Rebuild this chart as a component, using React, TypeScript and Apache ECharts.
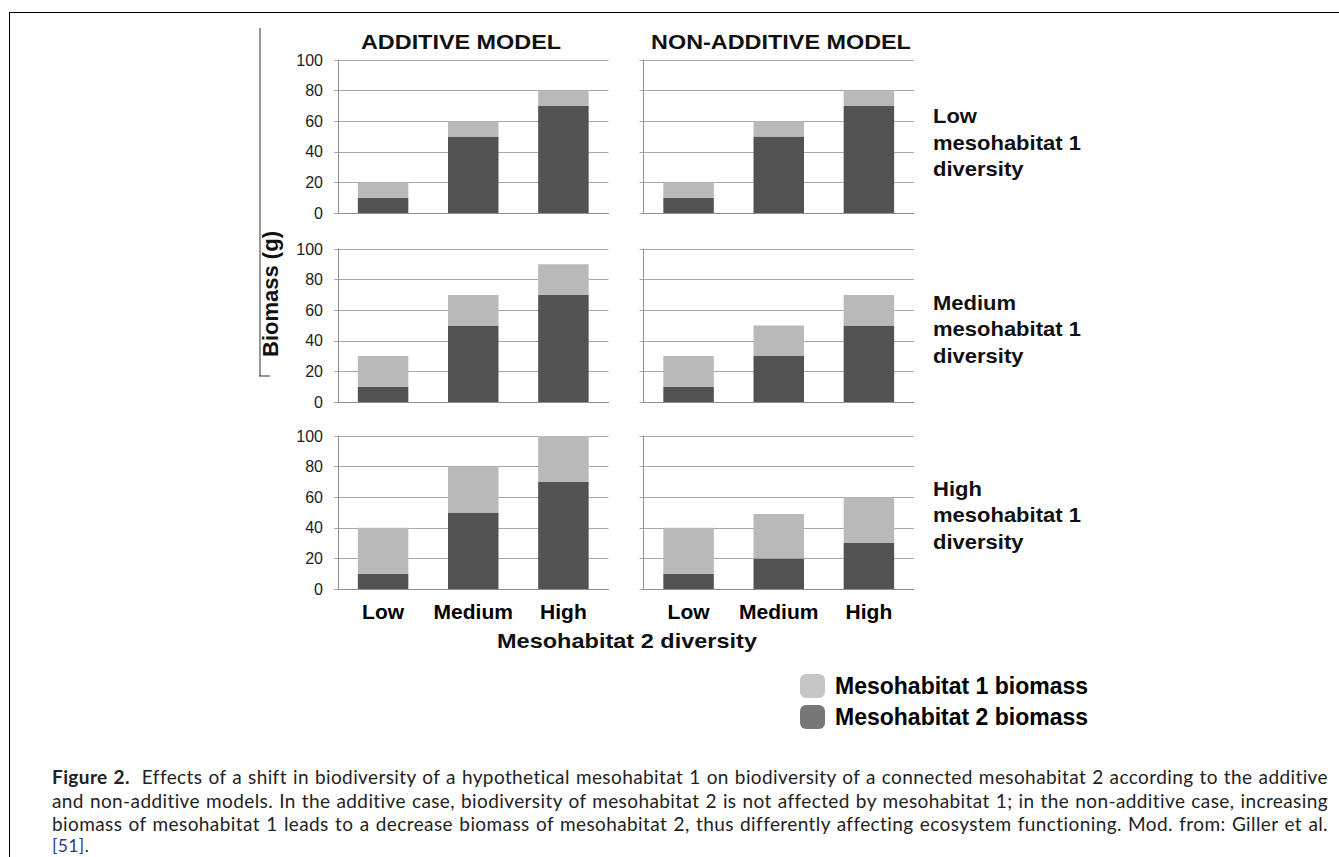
import React, { useEffect, useRef } from "react";
import * as echarts from "echarts";

// ---- Data ----
const categories = ["Low", "Medium", "High"];
const yTicks = [0, 20, 40, 60, 80, 100];

// Mesohabitat 2 biomass (dark, bottom) and Mesohabitat 1 biomass (light, stacked on top)
const additiveLowM2 = [10, 50, 70];
const additiveLowM1 = [10, 10, 10];
const nonAdditiveLowM2 = [10, 50, 70];
const nonAdditiveLowM1 = [10, 10, 10];

const additiveMediumM2 = [10, 50, 70];
const additiveMediumM1 = [20, 20, 20];
const nonAdditiveMediumM2 = [10, 30, 50];
const nonAdditiveMediumM1 = [20, 20, 20];

const additiveHighM2 = [10, 50, 70];
const additiveHighM1 = [30, 30, 30];
const nonAdditiveHighM2 = [10, 20, 30];
const nonAdditiveHighM1 = [30, 29, 30];

const modelTitles = ["ADDITIVE MODEL", "NON-ADDITIVE MODEL"];
const rowLabels = [
  "Low\nmesohabitat 1\ndiversity",
  "Medium\nmesohabitat 1\ndiversity",
  "High\nmesohabitat 1\ndiversity",
];
const seriesNames = ["Mesohabitat 1 biomass", "Mesohabitat 2 biomass"];
const yAxisTitle = "Biomass (g)";
const xAxisTitle = "Mesohabitat 2 diversity";

const FONT = '"Liberation Sans", Arial, Helvetica, sans-serif';
const DARK = "#525252";
const LIGHT = "#b9b9b9";
const GRID_LINE = "#a8a8a8";
const AXIS_LINE = "#8e8e8e";

export default function App() {
  const ref = useRef<HTMLDivElement>(null);

  useEffect(() => {
    if (!ref.current) return;
    const chart = echarts.init(ref.current, null, { renderer: "svg" });

    const panels = [
      { m2: additiveLowM2, m1: additiveLowM1 },
      { m2: nonAdditiveLowM2, m1: nonAdditiveLowM1 },
      { m2: additiveMediumM2, m1: additiveMediumM1 },
      { m2: nonAdditiveMediumM2, m1: nonAdditiveMediumM1 },
      { m2: additiveHighM2, m1: additiveHighM1 },
      { m2: nonAdditiveHighM2, m1: nonAdditiveHighM1 },
    ];
    const rowTops = [60, 249, 436];
    const colLefts = [338, 643.5];
    const gridW = 270.5;
    const gridH = 153;

    const grids: any[] = [];
    const xAxes: any[] = [];
    const yAxes: any[] = [];
    const series: any[] = [];

    panels.forEach((p, i) => {
      const row = Math.floor(i / 2);
      const col = i % 2;
      grids.push({
        left: colLefts[col],
        top: rowTops[row],
        width: gridW,
        height: gridH,
        containLabel: false,
      });
      xAxes.push({
        type: "category",
        gridIndex: i,
        data: categories,
        axisLine: { show: true, lineStyle: { color: AXIS_LINE, width: 1 } },
        axisTick: { show: false },
        axisLabel: {
          show: row === 2,
          interval: 0,
          hideOverlap: false,
          fontFamily: FONT,
          fontSize: 21,
          fontWeight: "bold",
          color: "#000",
          margin: 12,
        },
      });
      yAxes.push({
        type: "value",
        gridIndex: i,
        min: yTicks[0],
        max: yTicks[yTicks.length - 1],
        interval: yTicks[1] - yTicks[0],
        axisLine: { show: true, lineStyle: { color: AXIS_LINE, width: 1 } },
        axisTick: { show: true, length: 4, lineStyle: { color: GRID_LINE } },
        splitLine: { show: true, lineStyle: { color: GRID_LINE, width: 1 } },
        axisLabel: {
          show: col === 0,
          fontFamily: FONT,
          fontSize: 16,
          color: "#1e1e1e",
          margin: 15,
        },
      });
      series.push({
        name: seriesNames[1],
        type: "bar",
        xAxisIndex: i,
        yAxisIndex: i,
        stack: "panel" + i,
        data: p.m2,
        barCategoryGap: "44%",
        itemStyle: { color: DARK },
      });
      series.push({
        name: seriesNames[0],
        type: "bar",
        xAxisIndex: i,
        yAxisIndex: i,
        stack: "panel" + i,
        data: p.m1,
        barCategoryGap: "44%",
        itemStyle: { color: LIGHT },
      });
    });

    const centerText = (text: string, x: number, y: number, font: string, extra: any = {}) => ({
      type: "text",
      x,
      y,
      ...extra,
      style: {
        text,
        font,
        fill: "#111",
        align: "center",
        verticalAlign: "middle",
        textAlign: "center",
        textVerticalAlign: "middle",
      },
    });

    const graphic: any[] = [
      centerText(modelTitles[0], 461, 42, `bold 20px ${FONT}`, { scaleX: 1.17 }),
      centerText(modelTitles[1], 781, 42, `bold 20px ${FONT}`, { scaleX: 1.17 }),
      ...rowLabels.map((t, r) => ({
        type: "text",
        x: 933,
        y: [142.5, 329, 515][r],
        scaleX: 1.1,
        style: {
          text: t,
          font: `bold 20px ${FONT}`,
          lineHeight: 26.5,
          fill: "#111",
          align: "left",
          verticalAlign: "middle",
          textAlign: "left",
          textVerticalAlign: "middle",
        },
      })),
      centerText(yAxisTitle, 270, 294, `bold 22px ${FONT}`, { rotation: Math.PI / 2 }),
      {
        type: "line",
        shape: { x1: 260, y1: 28, x2: 260, y2: 376 },
        style: { stroke: "#333", lineWidth: 1 },
      },
      {
        type: "line",
        shape: { x1: 259, y1: 376, x2: 270, y2: 376 },
        style: { stroke: "#333", lineWidth: 1 },
      },
      centerText(xAxisTitle, 627, 641, `bold 21px ${FONT}`, { scaleX: 1.12 }),
    ];

    chart.setOption({
      animation: false,
      backgroundColor: "transparent",
      grid: grids,
      xAxis: xAxes,
      yAxis: yAxes,
      series,
      legend: {
        orient: "vertical",
        left: 795,
        top: 669,
        itemWidth: 25,
        itemHeight: 24,
        itemGap: 7,
        selectedMode: false,
        icon: "roundRect",
        data: [
          { name: seriesNames[0], itemStyle: { color: "#c6c6c6" } },
          { name: seriesNames[1], itemStyle: { color: "#777777" } },
        ],
        textStyle: {
          fontFamily: FONT,
          fontSize: 23,
          fontWeight: "bold",
          color: "#000",
          padding: [0, 0, 0, 5],
        },
      },
      graphic,
    });

    return () => chart.dispose();
  }, []);

  const lineStyle: React.CSSProperties = {
    textAlign: "justify",
    textAlignLast: "justify",
    whiteSpace: "nowrap",
    height: 23.5,
  };

  return (
    <div
      style={{
        position: "fixed",
        left: 0,
        top: 0,
        width: 1339,
        height: 857,
        overflow: "hidden",
        background: "#fff",
      }}
    >
      <div
        style={{
          position: "absolute",
          left: 9,
          top: 12,
          width: 1400,
          height: 900,
          borderTop: "1px solid #000",
          borderLeft: "1px solid #000",
          boxSizing: "border-box",
        }}
      />
      <div
        ref={ref}
        style={{ position: "absolute", left: 0, top: 0, width: 1339, height: 740 }}
      />
      <div
        style={{
          position: "absolute",
          left: 52,
          top: 765,
          width: 1276,
          fontFamily: "Lato, 'Open Sans', sans-serif",
          fontSize: 19,
          letterSpacing: 0.4,
          lineHeight: "23.5px",
          color: "#222",
        }}
      >
        <div style={lineStyle}>
          <b>Figure 2.</b>&nbsp; Effects of a shift in biodiversity of a hypothetical mesohabitat 1 on
          biodiversity of a connected mesohabitat 2 according to the additive
        </div>
        <div style={lineStyle}>
          and non-additive models. In the additive case, biodiversity of mesohabitat 2 is not affected
          by mesohabitat 1; in the non-additive case, increasing
        </div>
        <div style={lineStyle}>
          biomass of mesohabitat 1 leads to a decrease biomass of mesohabitat 2, thus differently
          affecting ecosystem functioning. Mod. from: Giller et al.
        </div>
        <div style={{ height: 19, lineHeight: "19px", fontSize: 17.5 }}>
          <span style={{ color: "#2b3990" }}>[51]</span>.
        </div>
      </div>
    </div>
  );
}
